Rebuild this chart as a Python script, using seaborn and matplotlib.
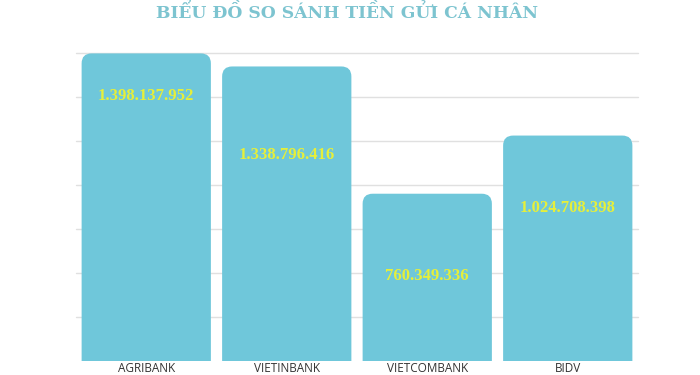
import matplotlib
matplotlib.use("Agg")
import matplotlib.pyplot as plt
import seaborn as sns
import pandas as pd
from matplotlib.patches import FancyBboxPatch

banks = ["AGRIBANK", "VIETINBANK", "VIETCOMBANK", "BIDV"]
deposits = [1398137952, 1338796416, 760349336, 1024708398]
value_labels = ["1.398.137.952", "1.338.796.416", "760.349.336", "1.024.708.398"]
title = "BIỂU ĐỒ SO SÁNH TIỀN GỬI CÁ NHÂN"

df = pd.DataFrame({"bank": banks, "value": [v / 1e9 for v in deposits]})

sns.set_theme(style="white")

BAR = "#6fc7da"
fig = plt.figure(figsize=(7, 3.75), dpi=100)
ax = fig.add_axes([76 / 700, 14 / 375, 562 / 700, 308 / 375])
sns.barplot(data=df, x="bank", y="value", color=BAR, width=0.92, ax=ax,
            saturation=1, zorder=2)
ax.set_ylim(0, 1.4)
ax.set_xlim(-0.5, 3.5)

# replace bars with rounded-top ones
xu = 1 / 140.5
yu = 1.4 / 308
for p in list(ax.patches):
    x, w, h = p.get_x(), p.get_width(), p.get_height()
    p.remove()
    r = 10 * xu
    fb = FancyBboxPatch((x, -0.2), w, h + 0.2,
                        boxstyle=f"round,pad=0,rounding_size={r}",
                        mutation_aspect=yu / xu, facecolor=BAR,
                        edgecolor="none", zorder=2)
    ax.add_patch(fb)

for yv in [0.2, 0.4, 0.6, 0.8, 1.0, 1.2, 1.4]:
    ax.axhline(yv, color="#e0e0e0", lw=1, zorder=1, clip_on=False)

label_frac = [0.86, 0.70, 0.51, 0.68]
for i, (v, lab) in enumerate(zip(df["value"], value_labels)):
    ax.text(i, v * label_frac[i], lab, ha="center", va="center",
            color="#e6ef3a", fontsize=12, fontweight="bold",
            family="Liberation Serif", zorder=3)

for s in ax.spines.values():
    s.set_visible(False)
ax.set_yticks([])
ax.set_xlabel("")
ax.set_ylabel("")
ax.tick_params(axis="x", length=0, pad=1, labelsize=8.5, labelcolor="#333333")
for t in ax.get_xticklabels():
    t.set_family("Open Sans")

fig.text(347 / 700, 1 - 13 / 375, title, ha="center", va="center",
         color="#7dc4d0", fontsize=12.3, fontweight="bold", family="DejaVu Serif")

fig.savefig("out.png", dpi=100)
